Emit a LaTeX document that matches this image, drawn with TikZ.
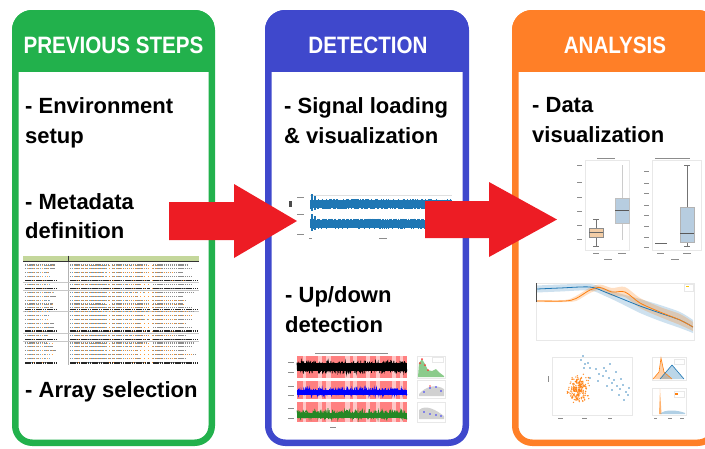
\documentclass[tikz,border=0pt]{standalone}
\usepackage{fontspec}
\setmainfont{Liberation Sans}
\newfontfamily\headfont[FakeStretch=0.87]{Liberation Sans}
\definecolor{pgreen}{HTML}{22B14C}
\definecolor{pblue}{HTML}{3F48CC}
\definecolor{porange}{HTML}{FF7F27}
\definecolor{parrow}{HTML}{ED1C24}
\definecolor{mplblue}{HTML}{1F77B4}
\definecolor{mplorange}{HTML}{FF7F0E}
\definecolor{mplgreen}{HTML}{2CA02C}
\definecolor{sheetgreen}{HTML}{C4D79B}
\definecolor{boxblue}{HTML}{B7CDE0}
\definecolor{boxtan}{HTML}{F3CDA6}
\tikzset{
  paneltitle/.style={anchor=base, text=white, inner sep=0pt,
    font=\headfont\bfseries\fontsize{23.7}{28}\selectfont},
  itemtext/.style={anchor=base west, inner sep=0pt,
    font=\bfseries\fontsize{22}{26}\selectfont},
  flowarrow/.style={fill=parrow},
  sheettext/.style={line width=1.1pt, dash pattern=on 1.3pt off 0.8pt, black!45},
  sheetbold/.style={line width=1.3pt, dash pattern=on 1.6pt off 0.6pt, black!85},
  tick/.style={line width=0.7pt, black!45},
  thinframe/.style={line width=0.4pt, black!9},
}
\begin{document}
\begin{tikzpicture}[x=1pt,y=-1pt]
\useasboundingbox (0,0) rectangle (705,448);
\clip (0,0) rectangle (705,448);
\pgfmathsetseed{11}

% ---------- the three stage panels ----------
\foreach \l/\r/\c in {12/215/pgreen, 265/469/pblue, 512/718/porange} {
  \begin{scope}
    \clip[rounded corners=20pt] (\l,10) rectangle (\r,446);
    \fill[\c] (\l,10) rectangle (\r,72);
  \end{scope}
  \draw[\c, line width=6.5pt, rounded corners=17pt]
    ({\l+3.25},13.25) rectangle ({\r-3.25},442.75);
}

\node[paneltitle] (tprev) at (113.5,53) {PREVIOUS STEPS};
\node[paneltitle] (tdet)  at (368,53)   {DETECTION};
\node[paneltitle] (tana)  at (615,53)   {ANALYSIS};

% ---------- panel items ----------
\node[itemtext] (envA)  at (25,113)  {- Environment};
\node[itemtext] (envB)  at (25,143)  {setup};
\node[itemtext] (metaA) at (25,209)  {- Metadata};
\node[itemtext] (metaB) at (25,238)  {definition};
\node[itemtext] (arr)   at (25,397)  {- Array selection};
\node[itemtext] (sigA)  at (284,113) {- Signal loading};
\node[itemtext] (sigB)  at (284,143) {\& visualization};
\node[itemtext] (updA)  at (285,302) {- Up/down};
\node[itemtext] (updB)  at (285,332) {detection};
\node[itemtext] (visA)  at (532,112) {- Data};
\node[itemtext] (visB)  at (532,142) {visualization};

% ---------- metadata spreadsheet thumbnail ----------
\fill[sheetgreen] (23,256) rectangle (199,261);
\draw[black!80, line width=0.7pt] (23,261.5) -- (199,261.5);
\draw[black!80, line width=0.9pt] (68,255.5) -- (68,262);
\draw[black!30, line width=0.6pt] (68,262) -- (68,365);
\foreach \y in {282,290.5,311.5,333,341.5}
  \draw[black!22, line width=0.5pt] (23,\y) -- (199,\y);
\foreach \y in {265,268.9,...,364} {
  \draw[sheettext] (25,\y) -- ({42+14*rnd},\y);
  \draw[sheettext] (70,\y) -- ({100+12*rnd},\y);
  \draw[sheettext] (112,\y) -- ({138+14*rnd},\y);
  \draw[sheettext] (153,\y) -- ({182+16*rnd},\y);
  \draw[line width=1pt, dash pattern=on 0.8pt off 2.6pt, mplblue!70] (72,\y) -- ({110+40*rnd},\y);
  \draw[line width=1pt, dash pattern=on 0.8pt off 3.1pt, orange!80] (74,\y) -- ({150+45*rnd},\y);
  \draw[line width=1pt, dash pattern=on 0.8pt off 3.6pt, mplblue!60] (27,\y) -- ({45+10*rnd},\y);
  \draw[line width=1pt, dash pattern=on 0.8pt off 3.9pt, orange!70] (28,\y) -- ({45+10*rnd},\y);
}
\foreach \y in {280.5,288.5,309.5,331,339.5,363} {
  \draw[sheetbold] (25,\y) -- (56,\y);
  \draw[sheetbold] (70,\y) -- (150,\y);
  \draw[sheetbold] (153,\y) -- (198,\y);
}

% ---------- raw signal thumbnail ----------
\draw[black!12, line width=0.6pt] (310,195) -- (452,195);
\foreach \x in {310,310.8,...,452} {
  \draw[mplblue, line width=0.9pt] (\x,{199+1.4*rnd}) -- (\x,{208+1.4*rnd});
  \draw[mplblue, line width=0.9pt] (\x,{218.5+1.4*rnd}) -- (\x,{227.5+1.4*rnd});
}
\draw[mplblue, line width=2.2pt] (312,194) -- (312,211) (312,214) -- (312,231);
\draw[mplblue, line width=1.2pt] (315,196) -- (315,210) (315,216) -- (315,230);
\foreach \y in {197.5,214,234.5} \draw[tick] (297,\y) -- (304,\y);
\fill[black!70] (289,200.5) rectangle (291.8,206.5);
\draw[tick] (309,238.5) -- (312,238.5) (379,238.5) -- (387,238.5);

% ---------- up/down detection thumbnail ----------
\foreach \t/\b in {356/378, 380.5/398.5, 402/422} {
  \fill[red!22] (297,\t) rectangle (407,\b);
  \foreach \s/\e in {297/303, 306/318, 322/326, 331/345, 350/353, 357/366,
                     370/376, 380/392, 396/400, 403/407}
    \fill[red!50] (\s,\t) rectangle (\e,\b);
}
\draw[black, line width=0.7pt] plot[samples=420, domain=297:407] (\x,{367+6.5*rand});
\fill[black] (297,363) rectangle (407,371);
\draw[blue, line width=0.7pt] plot[samples=380, domain=297:407] (\x,{392+3.5*rand-3*rnd*rnd*rnd});
\fill[blue] (297,390) rectangle (407,394.5);
\draw[mplgreen!85!black, line width=0.7pt] plot[samples=380, domain=297:407] (\x,{415+4.5*rand-4*rnd*rnd*rnd});
\fill[mplgreen!85!black] (297,413) rectangle (407,418);
\draw[tick] (315,353) -- (388,353);
\foreach \y in {362,372,386,395,408,418} \draw[tick] (288,\y) -- (294,\y);
\draw[tick] (330,427) -- (336,427);
\foreach \t/\b in {356/378, 380.5/398.5, 402/422} \draw[thinframe] (417,\t) rectangle (445,\b);
\fill[mplgreen!55] (418,377) -- (419,363) -- (422,359) -- (425,364) -- (428,370)
  -- (432,371) -- (436,369) -- (440,373) -- (444,376) -- (444,377) -- cycle;
\foreach \p in {(420,363),(422,359),(425,365),(428,370)} \fill[red!80] \p circle (1pt);
\draw[thinframe] (432,357.5) rectangle (443,362);
\fill[black!18] (419,394) .. controls (426,386) and (436,384) .. (444,389) -- (444,396) -- (419,396) -- cycle;
\foreach \p in {(424,392),(430,388),(436,387),(441,391)} \fill[blue!80] \p circle (0.9pt);
\fill[red!70] (430,386) circle (0.9pt);
\fill[black!18] (419,410) .. controls (426,404) and (436,410) .. (444,416) -- (444,419) -- (419,419) -- cycle;
\foreach \p in {(424,412),(430,414),(436,415),(441,416)} \fill[blue!80] \p circle (0.9pt);

% ---------- box plots ----------
\draw[thinframe] (585,160) rectangle (629,250);
\foreach \y in {165,182,197,211,225,239} \draw[tick] (577,\y) -- (582,\y);
\draw[black!55, line width=0.6pt] (596,219) -- (596,228) (596,237) -- (596,246)
  (593,219) -- (599,219) (593,246) -- (599,246);
\filldraw[fill=boxtan, draw=black!45, line width=0.5pt] (589,228) rectangle (603,237);
\draw[black!60, line width=0.8pt] (589,232.5) -- (603,232.5);
\draw[black!20, line width=0.5pt] (622,165) -- (622,198) (622,223) -- (622,240);
\filldraw[fill=boxblue, draw=black!25, line width=0.5pt] (615,198) rectangle (629,223);
\draw[black!65, line width=0.8pt] (615,210) -- (629,210);
\draw[tick] (593,253) -- (599,253) (618,253) -- (626,253) (604,259) -- (612,259);
\draw[tick] (597,158) -- (615,158);
\draw[thinframe] (652,160) rectangle (701,250);
\foreach \y in {171,183,193,205,215,226,237,247} \draw[tick] (644,\y) -- (649,\y);
\draw[black!60, line width=1.2pt] (655,243.5) -- (667,243.5);
\draw[black!55, line width=0.6pt] (687,165) -- (687,207) (687,242) -- (687,246)
  (684,165) -- (690,165) (684,246) -- (690,246);
\filldraw[fill=boxblue, draw=black!30, line width=0.5pt] (680,207) rectangle (694,242);
\draw[black!65, line width=0.8pt] (680,233) -- (694,233);
\draw[tick] (657,253) -- (664,253) (683,253) -- (691,253) (671,259) -- (679,259);
\draw[tick] (655,158) -- (690,158);

% ---------- time course with bands ----------
\draw[thinframe] (536,283) rectangle (694,340);
\draw[black!70, line width=0.9pt] (536,283) -- (536,302);
\fill[mplblue, opacity=0.22] plot[smooth] coordinates {(537,285.5) (560,284.5) (590,284)
  (605,288.5) (620,293.5) (640,299) (660,305) (680,312) (693,320)}
  -- plot[smooth] coordinates {(693,333) (680,328) (660,321) (640,313) (620,303)
  (605,296) (590,290.5) (560,291.5) (537,292.5)} -- cycle;
\fill[mplorange, opacity=0.25] plot[smooth] coordinates {(537,300) (565,300) (576,296)
  (590,287.5) (600,284.5) (612,288) (625,287) (640,298) (660,307) (680,314) (693,322)}
  -- plot[smooth] coordinates {(693,331) (680,325) (660,317) (640,308) (625,297)
  (612,296) (600,290) (590,293) (576,301) (565,302) (537,302)} -- cycle;
\draw[mplblue, line width=0.8pt] plot[smooth] coordinates {(537,289) (560,288) (590,287)
  (605,292) (620,298) (640,306) (660,313) (680,320) (693,327)};
\draw[mplorange, line width=0.8pt] plot[smooth] coordinates {(537,301) (565,301) (576,298.5)
  (590,290) (600,287.5) (612,292) (625,292) (640,303) (660,312) (680,320) (693,327)};
\draw[thinframe] (684,284.5) rectangle (693,291);
\draw[line width=0.8pt, yellow!60!orange] (686,286.5) -- (689,286.5);

% ---------- scatter and density panels ----------
\draw[thinframe] (552,357) rectangle (632,415);
\draw[tick] (548,376) -- (548,382) (558,418) -- (563,418) (582,418) -- (587,418) (608,418) -- (612,418);
\foreach \i in {1,...,220}
  \fill[mplorange, opacity=0.85] ({578+6*(rand+rand)},{388+7.5*(rand+rand)}) circle (0.75pt);
\foreach \p in {(583,356),(585,364),(588,363),(590,368),(596,369),(599,374),
  (603,376),(606,371),(609,378),(612,383),(614,380),(617,386),(620,389),(623,385),
  (626,392),(628,395),(619,395),(612,390),(607,386),(598,381),
  (584,368),(610,364),(616,372),(621,379),(629,388),(604,368),(590,378),(624,400),(581,360)}
  \fill[mplblue, opacity=0.85] \p circle (0.8pt);
\draw[thinframe] (652,357) rectangle (686,380);
\draw[thinframe] (652,388) rectangle (686,415);
\fill[mplorange, opacity=0.35] (653,379) -- (659,372) -- (661,358) -- (664,372) -- (672,379) -- cycle;
\fill[mplblue, opacity=0.3] (660,379) -- (672,365) -- (684,379) -- cycle;
\draw[mplorange, line width=0.6pt] (653,379) -- (659,372) -- (661,358) -- (664,372) -- (672,379);
\draw[mplblue, line width=0.6pt] (660,379) -- (672,365) -- (684,379);
\fill[mplorange, opacity=0.6] (659,414) -- (660,389) -- (661.5,414) -- cycle;
\fill[mplblue, opacity=0.35] (660,414) .. controls (664,409) and (678,410) .. (685,413) -- (685,414) -- cycle;
\draw[thinframe] (674,359) rectangle (684,364);
\draw[thinframe] (674,391) rectangle (684,397);
\fill[mplorange] (675,393) rectangle (678,395);
\draw[tick] (654,418) -- (657,418) (668,418) -- (672,418) (680,418) -- (684,418);

% ---------- stage-to-stage arrows ----------
\fill[flowarrow] (169,202) -- (234,202) -- (234,184) -- (297,221) -- (234,258)
  -- (234,240) -- (169,240) -- cycle;
\fill[flowarrow] (425,201) -- (489,201) -- (489,182) -- (557,219.5) -- (489,257)
  -- (489,238) -- (425,238) -- cycle;
\end{tikzpicture}
\end{document}
